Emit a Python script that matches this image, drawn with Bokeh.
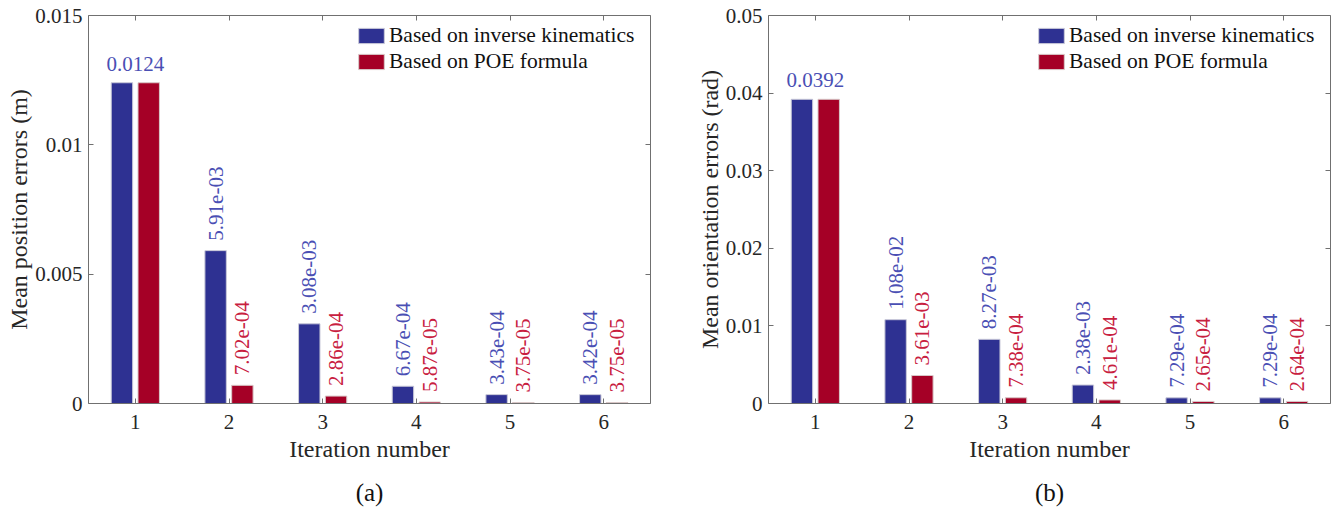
import math
from bokeh.plotting import figure
from bokeh.models import (ColumnDataSource, FixedTicker, LinearAxis, Title,
                          CustomJSTickFormatter, Legend, LegendItem)
from bokeh.transform import dodge
from bokeh.layouts import row
from bokeh.core.properties import value
from bokeh.embed import file_html
from bokeh.resources import INLINE

# ---------------- data ----------------
iterations = [1, 2, 3, 4, 5, 6]

pos_ik = [0.0124, 5.91e-03, 3.08e-03, 6.67e-04, 3.43e-04, 3.42e-04]
pos_poe = [0.0124, 7.02e-04, 2.86e-04, 5.87e-05, 3.75e-05, 3.75e-05]
pos_ik_labels = ["0.0124", "5.91e-03", "3.08e-03", "6.67e-04", "3.43e-04", "3.42e-04"]
pos_poe_labels = ["0.0124", "7.02e-04", "2.86e-04", "5.87e-05", "3.75e-05", "3.75e-05"]
pos_yticks = [0, 0.005, 0.01, 0.015]

ori_ik = [0.0392, 1.08e-02, 8.27e-03, 2.38e-03, 7.29e-04, 7.29e-04]
ori_poe = [0.0392, 3.61e-03, 7.38e-04, 4.61e-04, 2.65e-04, 2.64e-04]
ori_ik_labels = ["0.0392", "1.08e-02", "8.27e-03", "2.38e-03", "7.29e-04", "7.29e-04"]
ori_poe_labels = ["0.0392", "3.61e-03", "7.38e-04", "4.61e-04", "2.65e-04", "2.64e-04"]
ori_yticks = [0, 0.01, 0.02, 0.03, 0.04, 0.05]

series_names = ["Based on inverse kinematics", "Based on POE formula"]

# ---------------- style ----------------
FONT = "Liberation Serif"
BLUE = "#2e3192"
RED = "#a50026"
BLUE_TXT = "#4a4fb4"
RED_TXT = "#c8203f"
AXIS_COL = "#707070"
TXT_COL = "#262626"
OFFSET = 0.1429
BAR_W = 0.2286


def style_axis(ax, show_labels=True):
    ax.axis_line_color = AXIS_COL
    ax.major_tick_line_color = AXIS_COL
    ax.major_tick_in = 5
    ax.major_tick_out = 0
    ax.minor_tick_line_color = None
    ax.major_label_text_font = FONT
    ax.major_label_text_color = TXT_COL
    ax.axis_label_text_font = FONT
    ax.axis_label_text_font_style = "normal"
    ax.axis_label_text_color = TXT_COL
    ax.axis_label_text_font_size = "24px"
    if show_labels:
        ax.major_label_text_font_size = "21px"
    else:
        ax.major_label_text_font_size = "1px"
        ax.major_label_text_color = None
        ax.major_label_standoff = 0


def make_panel(ik, poe, ik_lbl, poe_lbl, yticks, ylabel, caption,
               border_left, border_right):
    ymax = yticks[-1]
    p = figure(x_range=(0.5, 6.5), y_range=(0, ymax),
               frame_width=562, frame_height=388,
               min_border_left=border_left, min_border_right=border_right,
               min_border_top=15, min_border_bottom=107,
               output_backend="svg", toolbar_location=None)
    p.outline_line_color = None
    p.xgrid.grid_line_color = None
    p.ygrid.grid_line_color = None

    src = ColumnDataSource(dict(x=iterations, ik=ik, poe=poe,
                                ik_lbl=ik_lbl, poe_lbl=poe_lbl))
    first = ColumnDataSource(dict(x=iterations[:1], ik=ik[:1], ik_lbl=ik_lbl[:1]))
    rest = ColumnDataSource(dict(x=iterations[1:], ik=ik[1:], poe=poe[1:],
                                 ik_lbl=ik_lbl[1:], poe_lbl=poe_lbl[1:]))

    r1 = p.vbar(x=dodge("x", -OFFSET, range=p.x_range), top="ik", width=BAR_W,
                source=src, fill_color=BLUE, line_color="#c8c8d8", line_width=1)
    r2 = p.vbar(x=dodge("x", OFFSET, range=p.x_range), top="poe", width=BAR_W,
                source=src, fill_color=RED, line_color="#d8c8c8", line_width=1)

    # horizontal label above the first group
    p.text(x="x", y="ik", text="ik_lbl", source=first,
           text_font=value(FONT), text_font_size="21px", text_color=BLUE_TXT,
           text_align="center", text_baseline="bottom", y_offset=-12)
    # rotated labels above the remaining bars
    p.text(x=dodge("x", -OFFSET, range=p.x_range), y="ik", text="ik_lbl", source=rest,
           angle=math.pi / 2, text_font=value(FONT), text_font_size="21px",
           text_color=BLUE_TXT, text_align="left", text_baseline="middle",
           y_offset=-10)
    p.text(x=dodge("x", OFFSET, range=p.x_range), y="poe", text="poe_lbl", source=rest,
           angle=math.pi / 2, text_font=value(FONT), text_font_size="21px",
           text_color=RED_TXT, text_align="left", text_baseline="middle",
           y_offset=-10)

    # axes
    xax = p.xaxis[0]
    yax = p.yaxis[0]
    xax.ticker = FixedTicker(ticks=iterations)
    yax.ticker = FixedTicker(ticks=yticks)
    yax.formatter = CustomJSTickFormatter(code="return tick.toString();")
    style_axis(xax)
    style_axis(yax)
    xax.axis_label = "Iteration number"
    xax.major_label_standoff = 11
    xax.axis_label_standoff = 4
    yax.axis_label = ylabel
    yax.major_label_standoff = 6
    yax.axis_label_standoff = 0

    top = LinearAxis(ticker=FixedTicker(ticks=iterations))
    style_axis(top, show_labels=False)
    p.add_layout(top, "above")
    right = LinearAxis(ticker=FixedTicker(ticks=yticks))
    style_axis(right, show_labels=False)
    p.add_layout(right, "right")

    # legend (bottom-left corner given in frame pixels)
    legend = Legend(items=[LegendItem(label=series_names[0], renderers=[r1]),
                           LegendItem(label=series_names[1], renderers=[r2])],
                    location=(267, 329))
    legend.label_text_font = FONT
    legend.label_text_font_size = "21.5px"
    legend.label_text_color = "#111111"
    legend.glyph_width = 32
    legend.glyph_height = 19
    legend.label_standoff = 2
    legend.spacing = 1
    legend.padding = 8
    legend.margin = 0
    legend.border_line_color = None
    legend.background_fill_alpha = 0
    p.add_layout(legend)

    # caption
    cap = Title(text=caption, align="center", text_font=FONT,
                text_font_size="25px", text_font_style="normal",
                text_color="#111111", standoff=24)
    p.add_layout(cap, "below")
    return p


pa = make_panel(pos_ik, pos_poe, pos_ik_labels, pos_poe_labels, pos_yticks,
                "Mean position errors (m)", "(a)", 88, 30)
pb = make_panel(ori_ik, ori_poe, ori_ik_labels, ori_poe_labels, ori_yticks,
                "Mean orientation errors (rad)", "(b)", 88, 3)

layout = row(pa, pb, spacing=0)
open("out.html", "w").write(file_html(layout, INLINE))
